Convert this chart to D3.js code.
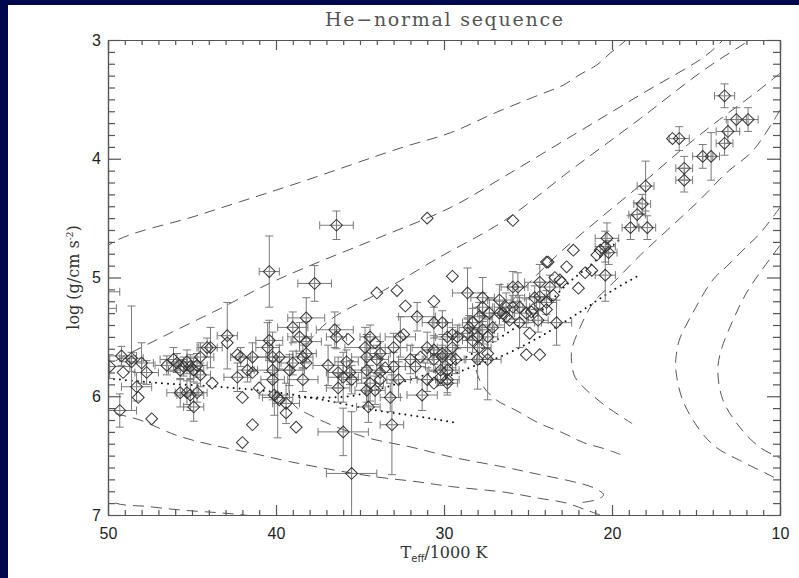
<!DOCTYPE html>
<html>
<head>
<meta charset="utf-8">
<script src="https://cdn.jsdelivr.net/npm/d3@7"></script>
<style>
  body { margin: 0; background: #00084d; }
  svg { display: block; }
</style>
</head>
<body>
<script>
// tick labels
var xTicks = [50, 40, 30, 20, 10];
var yTicks = [3, 4, 5, 6, 7];

// stars: Teff (1000 K), log g, and their errors (0 = no bar)
var teff = [
  49.9, 49.2, 49.1, 48.6, 48.6, 48.3, 48.2, 49.3, 48.0, 47.7, 47.4, 46.5, 46.1, 45.9, 45.7, 45.5, 45.3, 45.1, 44.9, 44.7,
  44.5, 45.3, 45.7, 44.9, 44.7, 44.1, 44.5, 43.9, 43.8, 42.9, 42.9, 42.3, 42.1, 42.0, 42.3, 41.4, 42.0, 41.4, 41.7, 41.4,
  41.0, 40.5, 40.4, 40.2, 39.8, 40.2, 40.2, 39.9, 39.8, 39.4, 39.2, 39.0, 38.8, 38.4, 38.4, 38.2, 38.2, 38.6, 39.0, 38.2,
  45.1, 40.1, 39.4, 51.0, 50.8,
  36.4, 31.0, 25.9, 40.4, 37.7, 34.0, 32.8, 29.5, 32.3, 30.6, 23.9,
  38.2, 36.5, 36.4, 35.7, 36.9, 36.3, 36.0, 36.3, 35.6, 35.5, 35.8, 34.7, 34.4, 34.1, 34.6, 34.6, 34.0, 33.8, 34.4, 34.1,
  34.5, 33.8, 33.8, 33.1, 36.0, 33.0, 32.6, 32.4, 33.0, 32.7, 33.2, 33.5, 31.3, 31.6, 32.0, 31.7, 31.0, 30.6, 30.6, 30.2,
  29.8, 31.0, 31.4, 30.1, 29.5, 29.3, 29.8, 30.6, 30.1, 29.5, 29.2, 28.6, 27.7, 27.7, 27.9, 28.3, 28.6, 28.0, 28.5, 27.7,
  28.3, 27.4, 27.9, 27.4, 28.0, 27.4, 26.7, 25.9, 25.6, 26.3, 25.9, 25.5, 26.3, 25.5, 26.7, 26.1, 25.1, 24.7, 24.3, 24.3,
  23.9, 24.4, 24.9, 25.1, 24.3, 27.3, 26.5, 27.1, 30.1, 29.8, 29.8, 29.6, 23.3, 22.0, 21.6, 21.2, 20.4, 23.8, 22.7, 23.4,
  23.1, 23.7, 23.5, 23.9, 24.6, 24.8, 22.3, 23.0,
  13.3, 12.6, 11.9, 13.1, 13.3, 14.6, 14.1, 16.0, 16.4, 15.7, 15.7, 18.0, 18.2, 18.5, 18.9, 17.9, 20.3, 20.4, 20.2, 20.7,
  20.9,
  35.5, 34.6, 30.6, 30.2
];
var logg = [
  5.75, 5.66, 5.80, 5.68, 5.71, 5.92, 6.01, 6.12, 5.72, 5.80, 6.19, 5.74, 5.69, 5.72, 5.78, 5.75, 5.71, 5.75, 5.78, 5.74,
  5.82, 5.97, 5.97, 6.09, 5.97, 5.59, 5.67, 5.59, 5.89, 5.49, 5.55, 5.84, 5.67, 6.01, 5.65, 6.24, 6.39, 5.67, 5.78, 5.80,
  5.93, 5.59, 5.53, 5.67, 5.67, 5.78, 5.86, 6.01, 6.03, 6.14, 5.78, 5.72, 6.26, 5.86, 5.67, 5.54, 5.34, 5.50, 5.42, 5.72,
  5.99, 5.99, 6.06, 5.12, 5.26,
  4.56, 4.50, 4.52, 4.95, 5.05, 5.13, 5.11, 4.99, 5.24, 5.20, 4.87,
  5.64, 5.44, 5.50, 5.52, 5.74, 5.80, 5.84, 5.93, 5.80, 5.86, 5.71, 5.59, 5.50, 5.55, 5.67, 5.78, 5.69, 5.64, 5.89, 5.95,
  6.09, 5.80, 5.86, 6.24, 6.30, 5.59, 5.50, 5.48, 5.75, 5.86, 6.01, 5.76, 5.99, 5.33, 5.69, 5.75, 5.59, 5.61, 5.69, 5.78,
  5.86, 5.86, 5.67, 5.64, 5.59, 5.69, 5.50, 5.38, 5.38, 5.48, 5.50, 5.13, 5.17, 5.25, 5.33, 5.38, 5.47, 5.50, 5.42, 5.44,
  5.53, 5.50, 5.59, 5.64, 5.69, 5.69, 5.19, 5.08, 5.08, 5.25, 5.25, 5.25, 5.33, 5.38, 5.30, 5.36, 5.30, 5.27, 5.16, 5.04,
  5.27, 5.36, 5.47, 5.65, 5.65, 5.30, 5.30, 5.42, 5.67, 5.78, 5.89, 5.69, 5.38, 5.09, 4.96, 4.94, 4.98, 4.87, 4.91, 5.00,
  5.02, 5.08, 5.15, 5.21, 5.17, 5.29, 4.77, 5.04,
  3.47, 3.67, 3.67, 3.77, 3.87, 3.98, 3.98, 3.83, 3.83, 4.08, 4.18, 4.23, 4.38, 4.47, 4.58, 4.58, 4.67, 4.74, 4.79, 4.77,
  4.81,
  6.65, 5.95, 5.89, 5.84
];
var errTeff = [
  1.2, 0.9, 0, 0.7, 0.6, 0.9, 0, 1.0, 0.7, 0.7, 0, 0.7, 0.8, 0.6, 0.7, 0.5, 0.8, 0.6, 0.6, 0.6,
  0.6, 0.7, 0.8, 0.6, 0.6, 0.6, 0.8, 0.7, 0, 0.6, 0, 0.8, 0.6, 0, 0, 0, 0, 0.8, 0.6, 0,
  0, 0.7, 0.8, 1.2, 0.6, 1.1, 0.7, 0.9, 0, 0, 0.9, 0.7, 0, 0.9, 0.6, 0.9, 1.1, 0.7, 0.9, 0,
  0.8, 0.9, 0.8, 1.7, 1.3,
  1.0, 0, 0, 0.6, 1.0, 0, 0, 0, 0, 0, 0,
  0.6, 1.1, 0.6, 0, 0.9, 0.7, 0.9, 0.7, 0.7, 0.6, 0.7, 1.2, 0.6, 0, 0.9, 0.9, 0.7, 0.6, 0.8, 0.6,
  0.7, 0.7, 0, 0.7, 1.5, 0.8, 0.9, 0, 0.7, 0.7, 0.6, 0, 0.9, 1.1, 0.7, 0.6, 0.9, 0.7, 0.6, 0.7,
  0.7, 0.6, 0, 0.7, 0.9, 0.6, 0.7, 0.7, 0.6, 0, 0.6, 0.9, 0.7, 0.6, 0.7, 0.6, 0.7, 0, 0.6, 0.7,
  0.6, 0.6, 0.7, 0, 0.8, 0.8, 0.7, 0.7, 0.6, 0.7, 0.6, 0.6, 0, 0.9, 0.6, 0, 0.7, 0, 0.6, 0.9,
  0, 0.6, 0, 0, 0, 0.7, 0, 0.7, 0.6, 0.7, 0.6, 0, 0.9, 0, 0, 0, 0.6, 0, 0, 0,
  0, 0.6, 0, 0.6, 0.6, 0, 0, 0,
  0.6, 0.6, 0.6, 0.7, 0.5, 0.6, 0.5, 0.6, 0, 0.5, 0.5, 0.5, 0.5, 0.5, 0.5, 0.5, 0.7, 0.6, 0.5, 0,
  0,
  1.5, 0.7, 0, 0
];
var errLogg = [
  0.10, 0.08, 0, 0.44, 0.08, 0.12, 0, 0.14, 0.17, 0.10, 0, 0.08, 0.10, 0.08, 0.08, 0.08, 0.10, 0.10, 0.10, 0.10,
  0.10, 0.10, 0.12, 0.12, 0.08, 0.08, 0.12, 0.17, 0, 0.28, 0, 0.12, 0.08, 0, 0, 0, 0, 0.12, 0.10, 0,
  0, 0.21, 0.17, 0.21, 0.10, 0.25, 0.15, 0.34, 0, 0, 0.13, 0.10, 0, 0.10, 0.10, 0.17, 0.17, 0.12, 0.13, 0,
  0.13, 0.17, 0.17, 0.10, 0.08,
  0.12, 0, 0, 0.30, 0.15, 0, 0, 0, 0, 0, 0,
  0.08, 0.15, 0.10, 0, 0.17, 0.13, 0.21, 0.12, 0.10, 0.12, 0.10, 0.17, 0.10, 0, 0.17, 0.30, 0.12, 0.10, 0.15, 0.12,
  0.13, 0.12, 0, 0.42, 0.20, 0.12, 0.17, 0, 0.12, 0.15, 0.12, 0, 0.13, 0.12, 0.12, 0.10, 0.13, 0.12, 0.10, 0.13,
  0.13, 0.10, 0, 0.12, 0.17, 0.12, 0.12, 0.13, 0.10, 0, 0.10, 0.21, 0.17, 0.12, 0.12, 0.12, 0.12, 0, 0.10, 0.12,
  0.10, 0.10, 0.12, 0, 0.25, 0.34, 0.13, 0.13, 0.12, 0.12, 0.10, 0.10, 0, 0.21, 0.10, 0, 0.12, 0, 0.12, 0.15,
  0, 0.10, 0, 0, 0, 0.12, 0, 0.12, 0.10, 0.12, 0.08, 0, 0.19, 0, 0, 0, 0.22, 0, 0, 0,
  0, 0.10, 0, 0.10, 0.10, 0, 0, 0,
  0.10, 0.10, 0.10, 0.10, 0.10, 0.10, 0.20, 0.10, 0, 0.10, 0.10, 0.21, 0.08, 0.10, 0.10, 0.10, 0.13, 0.13, 0.10, 0,
  0,
  0.52, 0.10, 0, 0
];

// evolutionary tracks (dashed), [Teff, log g]
var track1 = [[40.4, 7.03], [41.9, 7.00], [43.5, 6.98], [45.5, 6.96], [47.5, 6.93], [50.0, 6.87], [51.5, 6.5], [52.5, 5.8],
  [51.5, 5.0], [50.0, 4.73], [44.5, 4.47], [38.6, 4.20], [32.6, 3.91], [29.6, 3.78], [26.9, 3.61], [24.3, 3.46],
  [22.9, 3.38], [21.9, 3.29], [20.9, 3.21], [20.1, 3.11], [19.4, 3.03], [18.9, 2.97]];
var track2 = [[20.7, 7.00], [21.5, 6.96], [22.7, 6.90], [24.3, 6.86], [26.3, 6.81], [29.6, 6.76], [31.6, 6.72], [34.0, 6.68],
  [36.6, 6.62], [39.2, 6.55], [41.4, 6.48], [43.8, 6.41], [45.9, 6.33], [48.1, 6.20], [50.0, 6.12], [51.0, 6.0], [51.0, 5.85],
  [50.0, 5.74], [46.9, 5.51], [43.3, 5.26], [40.4, 5.05], [37.8, 4.89], [33.8, 4.66], [29.6, 4.41], [26.3, 4.14],
  [22.3, 3.80], [18.3, 3.46], [14.4, 3.13], [13.4, 3.00]];
var track3 = [[11.2, 2.95], [14.4, 3.24], [18.3, 3.66], [22.3, 4.08], [26.4, 4.52], [30.4, 4.84], [33.6, 5.11], [36.8, 5.36],
  [38.4, 5.61], [39.2, 5.86], [39.0, 6.06], [37.8, 6.17], [34.8, 6.34], [31.9, 6.43], [29.6, 6.51], [26.3, 6.60],
  [24.3, 6.66], [22.3, 6.72], [21.1, 6.77], [20.5, 6.83], [20.9, 6.87], [22.1, 6.90]];
var track4 = [[10.0, 3.28], [11.6, 3.46], [13.6, 3.67], [16.0, 3.94], [18.3, 4.22], [20.7, 4.50], [23.1, 4.79], [24.9, 5.04],
  [26.4, 5.27], [27.4, 5.48], [28.0, 5.65], [28.1, 5.76], [27.7, 5.91], [26.9, 6.03], [25.7, 6.12], [24.3, 6.23],
  [22.9, 6.31], [21.7, 6.39], [20.5, 6.44], [19.5, 6.49]];
var track5 = [[10.0, 3.59], [11.6, 3.93], [13.2, 4.12], [14.8, 4.35], [16.7, 4.60], [18.3, 4.81], [19.9, 5.04], [21.1, 5.21],
  [21.9, 5.42], [22.4, 5.61], [22.4, 5.71], [22.2, 5.84], [21.5, 5.95], [20.3, 6.09], [18.8, 6.23]];
var track6 = [[10.0, 4.41], [11.2, 4.63], [12.0, 4.74], [13.2, 4.91], [14.0, 5.02], [15.2, 5.30], [16.0, 5.53], [16.2, 5.69],
  [16.2, 5.78], [15.8, 6.03], [14.8, 6.28], [13.8, 6.43], [12.4, 6.54], [10.4, 6.68], [10.0, 6.71]];
var track7 = [[10.0, 4.73], [11.2, 4.96], [12.0, 5.13], [12.8, 5.36], [13.5, 5.61], [13.7, 5.78], [13.4, 6.03], [12.4, 6.26],
  [11.2, 6.43], [10.0, 6.52]];

// dotted reference lines
var dotted1 = [[50.0, 5.85], [46.9, 5.89], [44.5, 5.91], [41.0, 5.95], [38.0, 6.01], [34.0, 6.12], [32.0, 6.16], [29.4, 6.22]];
var dotted2 = [[38.6, 6.01], [35.6, 6.00], [33.6, 5.93], [32.0, 5.86], [29.6, 5.74], [28.3, 5.64], [26.7, 5.51], [25.5, 5.40],
  [24.3, 5.29], [22.7, 5.06], [20.9, 4.85], [19.4, 4.66]];
var dotted3 = [[30.2, 5.86], [28.3, 5.75], [26.7, 5.67], [24.3, 5.50], [21.9, 5.29], [20.1, 5.12], [18.5, 4.99]];

var width = 799, height = 578;
var plotL = 108, plotR = 780, plotT = 40, plotB = 515;

var x = d3.scaleLinear().domain([50, 10]).range([plotL, plotR]);
var y = d3.scaleLinear().domain([3, 7]).range([plotT, plotB]);

var svg = d3.select("body").append("svg")
    .attr("width", width)
    .attr("height", height);

svg.append("rect").attr("width", width).attr("height", height).attr("fill", "#00084d");
svg.append("rect").attr("x", 8).attr("y", 5).attr("width", width - 8).attr("height", height - 5).attr("fill", "#fff");

svg.append("clipPath").attr("id", "plotclip")
  .append("rect")
    .attr("x", plotL).attr("y", plotT)
    .attr("width", plotR - plotL).attr("height", plotB - plotT);

var plot = svg.append("g").attr("clip-path", "url(#plotclip)");

var line = d3.line()
    .x(function(d) { return x(d[0]); })
    .y(function(d) { return y(d[1]); })
    .curve(d3.curveCatmullRom.alpha(0.5));

[track1, track2, track3, track4, track5, track6, track7].forEach(function(t) {
  plot.append("path")
      .attr("d", line(t))
      .attr("fill", "none")
      .attr("stroke", "#555")
      .attr("stroke-width", 1)
      .attr("stroke-dasharray", "11,7");
});

[dotted1, dotted2, dotted3].forEach(function(t) {
  plot.append("path")
      .attr("d", line(t))
      .attr("fill", "none")
      .attr("stroke", "#111")
      .attr("stroke-width", 2)
      .attr("stroke-linecap", "round")
      .attr("stroke-dasharray", "0,6");
});

var stars = teff.map(function(t, i) {
  return { t: t, g: logg[i], et: errTeff[i], eg: errLogg[i] };
});

// error bars
var cap = 4;
var bars = plot.append("g").attr("stroke", "#7a7a7a").attr("stroke-width", 1);
stars.forEach(function(d) {
  var cx = x(d.t), cy = y(d.g);
  if (d.et > 0) {
    var x1 = x(d.t + d.et), x2 = x(d.t - d.et);
    bars.append("line").attr("x1", x1).attr("x2", x2).attr("y1", cy).attr("y2", cy);
    bars.append("line").attr("x1", x1).attr("x2", x1).attr("y1", cy - cap).attr("y2", cy + cap);
    bars.append("line").attr("x1", x2).attr("x2", x2).attr("y1", cy - cap).attr("y2", cy + cap);
  }
  if (d.eg > 0) {
    var y1 = y(d.g - d.eg), y2 = y(d.g + d.eg);
    bars.append("line").attr("x1", cx).attr("x2", cx).attr("y1", y1).attr("y2", y2);
    bars.append("line").attr("x1", cx - cap).attr("x2", cx + cap).attr("y1", y1).attr("y2", y1);
    bars.append("line").attr("x1", cx - cap).attr("x2", cx + cap).attr("y1", y2).attr("y2", y2);
  }
});

// diamonds
var diamond = d3.symbol().type(d3.symbolSquare).size(70);
plot.append("g").selectAll("path")
    .data(stars)
  .enter().append("path")
    .attr("d", diamond)
    .attr("transform", function(d) { return "translate(" + x(d.t) + "," + y(d.g) + ") rotate(45)"; })
    .attr("fill", "none")
    .attr("stroke", "#333")
    .attr("stroke-width", 1);

// axes, ticks pointing inward on all four sides
var xMinor = d3.range(11, 50).filter(function(v) { return v % 10; });
var yMinor = d3.range(31, 70).filter(function(v) { return v % 10; }).map(function(v) { return v / 10; });

function styleAxis(g) {
  g.selectAll("path.domain").attr("stroke", "#555").attr("stroke-width", 1.2);
  g.selectAll("line").attr("stroke", "#555").attr("stroke-width", 1.2);
  g.selectAll("text")
      .attr("fill", "#222")
      .style("font-family", "'Liberation Sans', Arial, sans-serif")
      .style("font-size", "16px");
}

svg.append("g").attr("transform", "translate(0," + plotB + ")")
    .call(d3.axisBottom(x).tickValues(xTicks).tickSize(-10).tickSizeOuter(0).tickPadding(13).tickFormat(d3.format("d")))
    .call(styleAxis);
svg.append("g").attr("transform", "translate(0," + plotB + ")")
    .call(d3.axisBottom(x).tickValues(xMinor).tickSize(-5).tickSizeOuter(0).tickFormat(""))
    .call(styleAxis);
svg.append("g").attr("transform", "translate(0," + plotT + ")")
    .call(d3.axisTop(x).tickValues(xTicks).tickSize(-10).tickSizeOuter(0).tickFormat(""))
    .call(styleAxis);
svg.append("g").attr("transform", "translate(0," + plotT + ")")
    .call(d3.axisTop(x).tickValues(xMinor).tickSize(-5).tickSizeOuter(0).tickFormat(""))
    .call(styleAxis);

svg.append("g").attr("transform", "translate(" + plotL + ",0)")
    .call(d3.axisLeft(y).tickValues(yTicks).tickSize(-13).tickSizeOuter(0).tickPadding(7).tickFormat(d3.format("d")))
    .call(styleAxis);
svg.append("g").attr("transform", "translate(" + plotL + ",0)")
    .call(d3.axisLeft(y).tickValues(yMinor).tickSize(-7).tickSizeOuter(0).tickFormat(""))
    .call(styleAxis);
svg.append("g").attr("transform", "translate(" + plotR + ",0)")
    .call(d3.axisRight(y).tickValues(yTicks).tickSize(-13).tickSizeOuter(0).tickFormat(""))
    .call(styleAxis);
svg.append("g").attr("transform", "translate(" + plotR + ",0)")
    .call(d3.axisRight(y).tickValues(yMinor).tickSize(-7).tickSizeOuter(0).tickFormat(""))
    .call(styleAxis);

// title
svg.append("text")
    .attr("x", (plotL + plotR) / 2)
    .attr("y", 26)
    .attr("text-anchor", "middle")
    .attr("textLength", 238)
    .attr("lengthAdjust", "spacing")
    .attr("fill", "#555")
    .style("font-family", "'DejaVu Serif', serif")
    .style("font-size", "19px")
    .text("He\u2212normal sequence");

// x label
var xl = svg.append("text")
    .attr("x", (plotL + plotR) / 2)
    .attr("y", 558)
    .attr("text-anchor", "middle")
    .attr("fill", "#333")
    .style("font-family", "'DejaVu Serif', serif")
    .style("font-size", "16px");
xl.append("tspan").text("T");
xl.append("tspan").attr("dy", 4).style("font-family", "'DejaVu Sans', sans-serif").style("font-size", "10px").text("eff");
xl.append("tspan").attr("dy", -4).text("/1000 K");

// y label
var yl = svg.append("text")
    .attr("transform", "translate(79," + ((plotT + plotB) / 2) + ") rotate(-90)")
    .attr("text-anchor", "middle")
    .attr("fill", "#333")
    .style("font-family", "'DejaVu Serif', serif")
    .style("font-size", "16px");
yl.append("tspan").text("log (g/cm s");
yl.append("tspan").attr("dy", -6).style("font-size", "9px").text("-2");
yl.append("tspan").attr("dy", 6).text(")");
</script>
</body>
</html>
